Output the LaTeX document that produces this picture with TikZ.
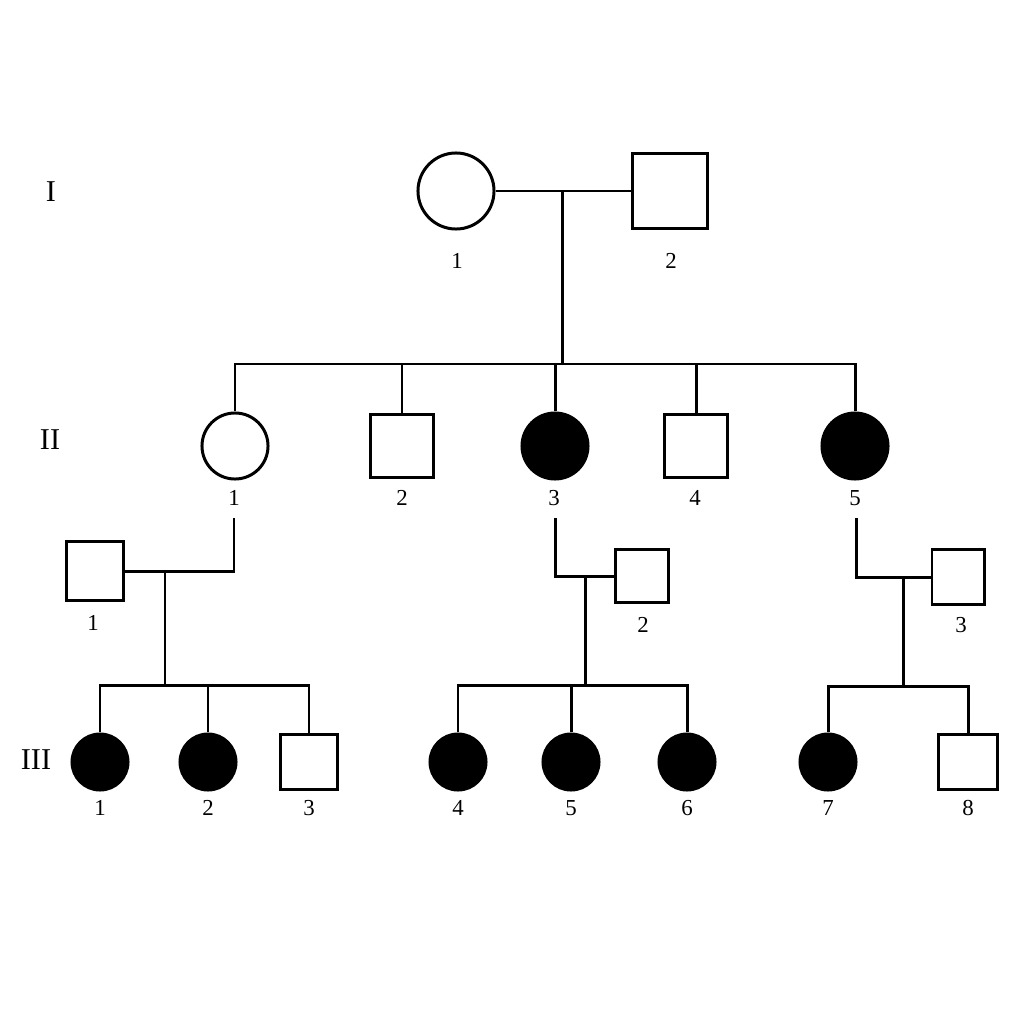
\documentclass[tikz,border=0pt]{standalone}
\usepackage{fontspec}
\setmainfont{Liberation Serif}
\usetikzlibrary{positioning}

\begin{document}
\begin{tikzpicture}[x=0.01cm,y=-0.01cm,
  link/.style={line width=0.85pt},
  fem/.style={circle,draw,line width=0.85pt,inner sep=0pt},
  mal/.style={rectangle,draw,line width=0.85pt,inner sep=0pt},
  sick/.style={fill=black},
  num/.style={inner sep=0pt,font=\fontsize{6.5}{7}\selectfont},
  gen/.style={inner sep=0pt,font=\fontsize{8.6}{10}\selectfont}]

\useasboundingbox (0,0) rectangle (1024,1024);

\node[gen] (g1) at (51,192) {I};
\node[gen] (g2) at (50,440) {II};
\node[gen] (g3) at (36,760) {III};

\node[fem,minimum size=0.76cm] (p11) at (456,191) {};
\node[mal,minimum size=0.74cm] (p12) at (670,191) {};
\node[num] (l11) at (457,261) {1};
\node[num] (l12) at (671,261) {2};

\node[fem,minimum size=0.66cm] (p21) at (235,446) {};
\node[mal,minimum size=0.62cm] (p22) at (402,446) {};
\node[fem,sick,minimum size=0.66cm] (p23) at (555,446) {};
\node[mal,minimum size=0.62cm] (p24) at (696,446) {};
\node[fem,sick,minimum size=0.66cm] (p25) at (855,446) {};
\node[num] (l21) at (234,498) {1};
\node[num] (l22) at (402,498) {2};
\node[num] (l23) at (554,498) {3};
\node[num] (l24) at (695,498) {4};
\node[num] (l25) at (855,498) {5};

\node[mal,minimum width=0.56cm,minimum height=0.59cm] (s1) at (95,571) {};
\node[mal,minimum size=0.53cm] (s2) at (642,576) {};
\node[mal,minimum width=0.52cm,minimum height=0.55cm] (s3) at (958,577) {};
\node[num] (ls1) at (93,623) {1};
\node[num] (ls2) at (643,625) {2};
\node[num] (ls3) at (961,625) {3};

\node[fem,sick,minimum size=0.56cm] (p31) at (100,762) {};
\node[fem,sick,minimum size=0.56cm] (p32) at (208,762) {};
\node[mal,minimum width=0.57cm,minimum height=0.54cm] (p33) at (309,762) {};
\node[fem,sick,minimum size=0.56cm] (p34) at (458,762) {};
\node[fem,sick,minimum size=0.56cm] (p35) at (571,762) {};
\node[fem,sick,minimum size=0.56cm] (p36) at (687,762) {};
\node[fem,sick,minimum size=0.56cm] (p37) at (828,762) {};
\node[mal,minimum width=0.59cm,minimum height=0.54cm] (p38) at (968,762) {};
\foreach \k/\x in {1/100,2/208,3/309,4/458,5/571,6/687,7/828,8/968}
  \node[num] (l3\k) at (\x,808) {\k};

\coordinate (m1) at (562,191);
\coordinate (sib1) at (562,364);
\draw[link] (p11) -- (p12);
\draw[link] (m1) -- (sib1);
\foreach \k in {21,22,23,24,25}
  \draw[link] (sib1) -| (p\k.north);

\coordinate (d21) at (234,518);
\coordinate (m2) at (165,571);
\coordinate (sib2) at (165,685);
\draw[link] (d21) |- (s1.east);
\draw[link] (m2) -- (sib2);
\foreach \k in {31,32,33}
  \draw[link] (sib2) -| (p\k.north);

\coordinate (d23) at (555,518);
\coordinate (m3) at (585,576);
\coordinate (sib3) at (585,685);
\draw[link] (d23) |- (s2.west);
\draw[link] (m3) -- (sib3);
\foreach \k in {34,35,36}
  \draw[link] (sib3) -| (p\k.north);

\coordinate (d25) at (856,518);
\coordinate (m4) at (903,577);
\coordinate (sib4) at (903,686);
\draw[link] (d25) |- (s3.west);
\draw[link] (m4) -- (sib4);
\foreach \k in {37,38}
  \draw[link] (sib4) -| (p\k.north);
\end{tikzpicture}
\end{document}
